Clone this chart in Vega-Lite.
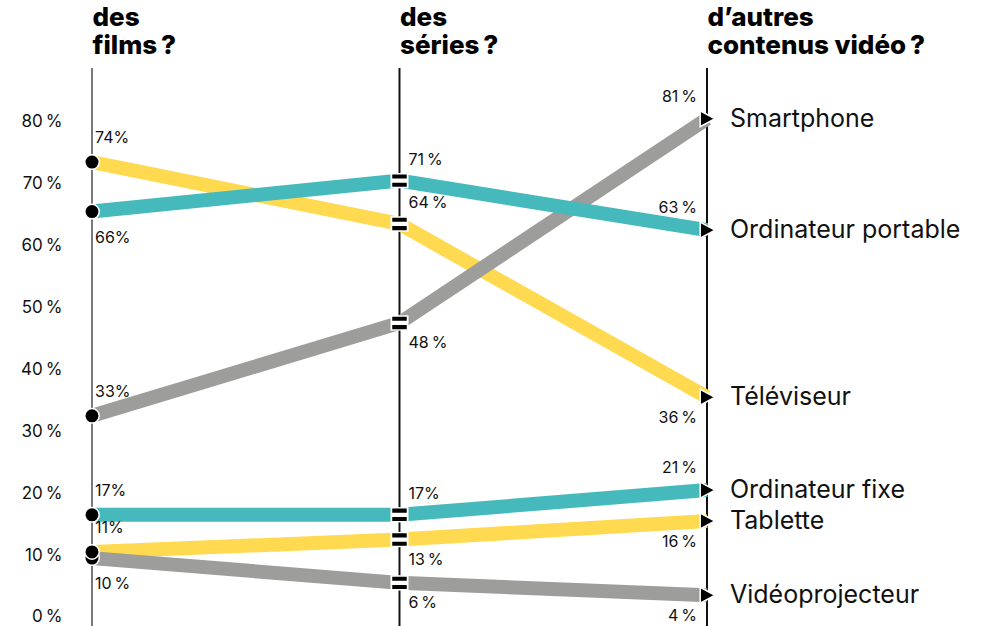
{
  "$schema": "https://vega.github.io/schema/vega-lite/v6.json",
  "autosize": {"type": "none"},
  "padding": {"left": 92, "top": 68, "right": 281, "bottom": 0},
  "width": 615,
  "height": 558,
  "background": "white",
  "config": {"view": {"stroke": null}, "font": "Inter", "text": {"font": "Inter"}},
  "data": {
    "values": [
      {"appareil": "Smartphone", "famille": "gris", "colonne": "films", "valeur": 33, "etiquette": "33%", "position": "dessus"},
      {"appareil": "Smartphone", "famille": "gris", "colonne": "séries", "valeur": 48, "etiquette": "48\u202f%", "position": "dessous"},
      {"appareil": "Smartphone", "famille": "gris", "colonne": "autres", "valeur": 81, "etiquette": "81\u202f%", "position": "dessus"},
      {"appareil": "Ordinateur portable", "famille": "turquoise", "colonne": "films", "valeur": 66, "etiquette": "66%", "position": "dessous"},
      {"appareil": "Ordinateur portable", "famille": "turquoise", "colonne": "séries", "valeur": 71, "etiquette": "71\u202f%", "position": "dessus"},
      {"appareil": "Ordinateur portable", "famille": "turquoise", "colonne": "autres", "valeur": 63, "etiquette": "63\u202f%", "position": "dessus"},
      {"appareil": "Téléviseur", "famille": "jaune", "colonne": "films", "valeur": 74, "etiquette": "74%", "position": "dessus"},
      {"appareil": "Téléviseur", "famille": "jaune", "colonne": "séries", "valeur": 64, "etiquette": "64\u202f%", "position": "dessus"},
      {"appareil": "Téléviseur", "famille": "jaune", "colonne": "autres", "valeur": 36, "etiquette": "36\u202f%", "position": "dessous"},
      {"appareil": "Ordinateur fixe", "famille": "turquoise", "colonne": "films", "valeur": 17, "etiquette": "17%", "position": "dessus"},
      {"appareil": "Ordinateur fixe", "famille": "turquoise", "colonne": "séries", "valeur": 17, "etiquette": "17%", "position": "dessus"},
      {"appareil": "Ordinateur fixe", "famille": "turquoise", "colonne": "autres", "valeur": 21, "etiquette": "21\u202f%", "position": "dessus"},
      {"appareil": "Vidéoprojecteur", "famille": "gris", "colonne": "films", "valeur": 10, "etiquette": "10\u202f%", "position": "dessous"},
      {"appareil": "Vidéoprojecteur", "famille": "gris", "colonne": "séries", "valeur": 6, "etiquette": "6\u202f%", "position": "dessous"},
      {"appareil": "Vidéoprojecteur", "famille": "gris", "colonne": "autres", "valeur": 4, "etiquette": "4\u202f%", "position": "dessous"},
      {"appareil": "Tablette", "famille": "jaune", "colonne": "films", "valeur": 11, "etiquette": "11%", "position": "dessus"},
      {"appareil": "Tablette", "famille": "jaune", "colonne": "séries", "valeur": 13, "etiquette": "13\u202f%", "position": "dessous"},
      {"appareil": "Tablette", "famille": "jaune", "colonne": "autres", "valeur": 16, "etiquette": "16\u202f%", "position": "dessous"}
    ]
  },
  "layer": [
    {
      "mark": {"type": "rule", "strokeWidth": 1.2},
      "encoding": {
        "x": {
          "field": "colonne", "type": "ordinal", "sort": ["films", "séries", "autres"],
          "scale": {"type": "point", "padding": 0},
          "axis": {
            "orient": "top", "title": null, "domain": false, "ticks": false, "grid": false,
            "labelAngle": 0, "labelAlign": "left", "labelBaseline": "bottom", "labelPadding": 38,
            "labelFont": "Inter", "labelFontSize": 26, "labelFontWeight": 800, "labelColor": "#000000",
            "labelLineHeight": 28, "labelLimit": 400, "labelOverlap": false,
            "labelExpr": "datum.value == 'films' ? ['des', 'films\u202f?'] : datum.value == 'séries' ? ['des', 'séries\u202f?'] : ['d’autres', 'contenus vidéo\u202f?']"
          }
        },
        "color": {"condition": {"test": "datum.colonne == 'films'", "value": "#7a7a7a"}, "value": "#111111"}
      }
    },
    {
      "transform": [{"filter": "datum.famille == 'jaune'"}],
      "mark": {"type": "line", "color": "#FFD94F", "strokeWidth": 14, "strokeCap": "butt"},
      "encoding": {
        "x": {"field": "colonne", "type": "ordinal", "sort": ["films", "séries", "autres"]},
        "y": {
          "field": "valeur", "type": "quantitative",
          "scale": {"domain": [-0.97, 89.2], "nice": false, "zero": false},
          "axis": {
            "title": null, "domain": false, "ticks": false, "grid": false,
            "values": [0, 10, 20, 30, 40, 50, 60, 70, 80],
            "labelExpr": "datum.value + '\u202f%'", "labelFont": "Inter", "labelFontSize": 17,
            "labelColor": "#111111", "labelPadding": 30, "labelOffset": -3
          }
        },
        "detail": {"field": "appareil"}
      }
    },
    {
      "transform": [{"filter": "datum.famille == 'gris'"}],
      "mark": {"type": "line", "color": "#9D9D9B", "strokeWidth": 14, "strokeCap": "butt"},
      "encoding": {
        "x": {"field": "colonne", "type": "ordinal", "sort": ["films", "séries", "autres"]},
        "y": {"field": "valeur", "type": "quantitative"},
        "detail": {"field": "appareil"}
      }
    },
    {
      "transform": [{"filter": "datum.famille == 'turquoise'"}],
      "mark": {"type": "line", "color": "#46B9BC", "strokeWidth": 14, "strokeCap": "butt"},
      "encoding": {
        "x": {"field": "colonne", "type": "ordinal", "sort": ["films", "séries", "autres"]},
        "y": {"field": "valeur", "type": "quantitative"},
        "detail": {"field": "appareil"}
      }
    },
    {
      "transform": [{"filter": "datum.colonne == 'films'"}],
      "mark": {"type": "point", "shape": "circle", "filled": true, "fill": "#000000", "stroke": "#ffffff", "strokeWidth": 1.5, "size": 210, "opacity": 1},
      "encoding": {
        "x": {"field": "colonne", "type": "ordinal", "sort": ["films", "séries", "autres"]},
        "y": {"field": "valeur", "type": "quantitative"}
      }
    },
    {
      "transform": [{"filter": "datum.colonne == 'séries'"}],
      "mark": {"type": "point", "shape": "M-1,-0.85H1V0.85H-1Z", "filled": true, "fill": "#ffffff", "strokeWidth": 0, "size": 324, "opacity": 1},
      "encoding": {
        "x": {"field": "colonne", "type": "ordinal", "sort": ["films", "séries", "autres"]},
        "y": {"field": "valeur", "type": "quantitative"}
      }
    },
    {
      "transform": [{"filter": "datum.colonne == 'séries'"}],
      "mark": {"type": "point", "shape": "M-1,-0.86H1V-0.29H-1Z M-1,0.29H1V0.86H-1Z", "filled": true, "fill": "#000000", "strokeWidth": 0, "size": 210, "opacity": 1},
      "encoding": {
        "x": {"field": "colonne", "type": "ordinal", "sort": ["films", "séries", "autres"]},
        "y": {"field": "valeur", "type": "quantitative"}
      }
    },
    {
      "transform": [{"filter": "datum.colonne == 'autres'"}],
      "mark": {"type": "point", "shape": "M-0.85,-1L1,0L-0.85,1Z", "filled": true, "fill": "#000000", "stroke": "#ffffff", "strokeWidth": 1.5, "size": 256, "opacity": 1},
      "encoding": {
        "x": {"field": "colonne", "type": "ordinal", "sort": ["films", "séries", "autres"]},
        "y": {"field": "valeur", "type": "quantitative"}
      }
    },
    {
      "transform": [{"filter": "datum.colonne == 'films' && datum.position == 'dessus'"}],
      "mark": {"type": "text", "align": "left", "baseline": "middle", "dx": 3, "dy": -24, "fontSize": 16, "color": "#111111"},
      "encoding": {
        "x": {"field": "colonne", "type": "ordinal", "sort": ["films", "séries", "autres"]},
        "y": {"field": "valeur", "type": "quantitative"},
        "text": {"field": "etiquette"}
      }
    },
    {
      "transform": [{"filter": "datum.colonne == 'films' && datum.position == 'dessous'"}],
      "mark": {"type": "text", "align": "left", "baseline": "middle", "dx": 3, "dy": 26, "fontSize": 16, "color": "#111111"},
      "encoding": {
        "x": {"field": "colonne", "type": "ordinal", "sort": ["films", "séries", "autres"]},
        "y": {"field": "valeur", "type": "quantitative"},
        "text": {"field": "etiquette"}
      }
    },
    {
      "transform": [{"filter": "datum.colonne == 'séries' && datum.position == 'dessus'"}],
      "mark": {"type": "text", "align": "left", "baseline": "middle", "dx": 9, "dy": -21, "fontSize": 16, "color": "#111111"},
      "encoding": {
        "x": {"field": "colonne", "type": "ordinal", "sort": ["films", "séries", "autres"]},
        "y": {"field": "valeur", "type": "quantitative"},
        "text": {"field": "etiquette"}
      }
    },
    {
      "transform": [{"filter": "datum.colonne == 'séries' && datum.position == 'dessous'"}],
      "mark": {"type": "text", "align": "left", "baseline": "middle", "dx": 9, "dy": 20, "fontSize": 16, "color": "#111111"},
      "encoding": {
        "x": {"field": "colonne", "type": "ordinal", "sort": ["films", "séries", "autres"]},
        "y": {"field": "valeur", "type": "quantitative"},
        "text": {"field": "etiquette"}
      }
    },
    {
      "transform": [{"filter": "datum.colonne == 'autres' && datum.position == 'dessus'"}],
      "mark": {"type": "text", "align": "right", "baseline": "middle", "dx": -10, "dy": -22, "fontSize": 16, "color": "#111111"},
      "encoding": {
        "x": {"field": "colonne", "type": "ordinal", "sort": ["films", "séries", "autres"]},
        "y": {"field": "valeur", "type": "quantitative"},
        "text": {"field": "etiquette"}
      }
    },
    {
      "transform": [{"filter": "datum.colonne == 'autres' && datum.position == 'dessous'"}],
      "mark": {"type": "text", "align": "right", "baseline": "middle", "dx": -10, "dy": 21, "fontSize": 16, "color": "#111111"},
      "encoding": {
        "x": {"field": "colonne", "type": "ordinal", "sort": ["films", "séries", "autres"]},
        "y": {"field": "valeur", "type": "quantitative"},
        "text": {"field": "etiquette"}
      }
    },
    {
      "transform": [{"filter": "datum.colonne == 'autres'"}],
      "mark": {"type": "text", "align": "left", "baseline": "middle", "dx": 23, "dy": 0, "fontSize": 25, "color": "#111111"},
      "encoding": {
        "x": {"field": "colonne", "type": "ordinal", "sort": ["films", "séries", "autres"]},
        "y": {"field": "valeur", "type": "quantitative"},
        "text": {"field": "appareil"}
      }
    }
  ]
}
